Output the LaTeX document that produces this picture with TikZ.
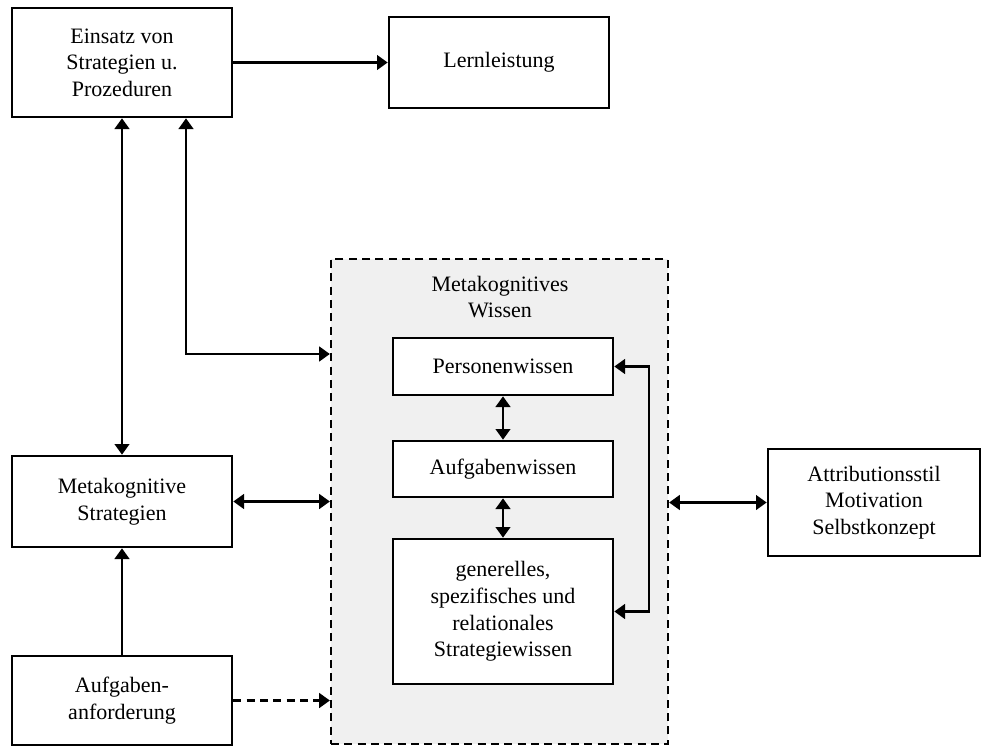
\documentclass[tikz,border=0pt]{standalone}
\usepackage{fontspec}
\setmainfont{Liberation Serif}
\usetikzlibrary{arrows.meta,calc}

\begin{document}
\begin{tikzpicture}[x=0.75pt,y=-0.75pt,
  box/.style={draw,line width=2pt,fill=white,align=center,inner sep=0pt,
    font=\fontsize{16.5}{20}\selectfont},
  tip/.tip={Triangle[length=8pt,width=11pt]},
  conn/.style={line width=1.7pt,-tip},
  biconn/.style={line width=1.7pt,tip-tip},
  dashline/.style={dash pattern=on 6pt off 4pt},
  group/.style={draw,dashline,line width=1.7pt,fill=black!6,inner sep=0pt}
]
\useasboundingbox (0,0) rectangle (982,746);

% group frame for metacognitive knowledge
\node[group,minimum width=337*0.75pt,minimum height=485*0.75pt] (mw) at (499.5,501.5) {};
\node[align=center,font=\fontsize{16.5}{20}\selectfont] (mwt) at (500,297) {Metakognitives\\Wissen};

% boxes
\node[box,minimum width=220*0.75pt,minimum height=109*0.75pt] (E) at (122,62.5) {Einsatz von\\Strategien u.\\Prozeduren};
\node[box,minimum width=220*0.75pt,minimum height=91*0.75pt] (L) at (499,62.5) {Lernleistung};
\node[box,minimum width=220*0.75pt,minimum height=91*0.75pt] (MS) at (122,501.5) {Metakognitive\\Strategien};
\node[box,minimum width=220*0.75pt,minimum height=89*0.75pt] (AA) at (122,700.5) {Aufgaben-\\anforderung};
\node[box,minimum width=220*0.75pt,minimum height=57*0.75pt] (P) at (503,366.5) {Personenwissen};
\node[box,minimum width=220*0.75pt,minimum height=56*0.75pt] (AW) at (503,469) {Aufgabenwissen};
\node[box,minimum width=220*0.75pt,minimum height=145*0.75pt] (S) at (503,611.5) {generelles,\\spezifisches und\\relationales\\Strategiewissen};
\node[box,minimum width=212*0.75pt,minimum height=107*0.75pt] (A) at (874,502.5) {Attributionsstil\\Motivation\\Selbstkonzept};

% connectors
\coordinate (c1) at (186,354);
\coordinate (fb) at (649,0);

\draw[conn] (E.east) -- (L.west);
\draw[biconn] (E.south) -- (MS.north);
\draw[biconn] (E.south -| c1) |- (mw.west |- c1);
\draw[biconn] (MS.east) -- (MS.east -| mw.west);
\draw[conn] (AA.north) -- (MS.south);
\draw[conn,dashline] (AA.east) -- (AA.east -| mw.west);
\draw[biconn] (P.south) -- (AW.north);
\draw[biconn] (AW.south) -- (S.north);
\draw[biconn] (P.east) -- (P.east -| fb) -- (S.east -| fb) -- (S.east);
\draw[biconn] (mw.east |- A.west) -- (A.west);
\end{tikzpicture}
\end{document}
